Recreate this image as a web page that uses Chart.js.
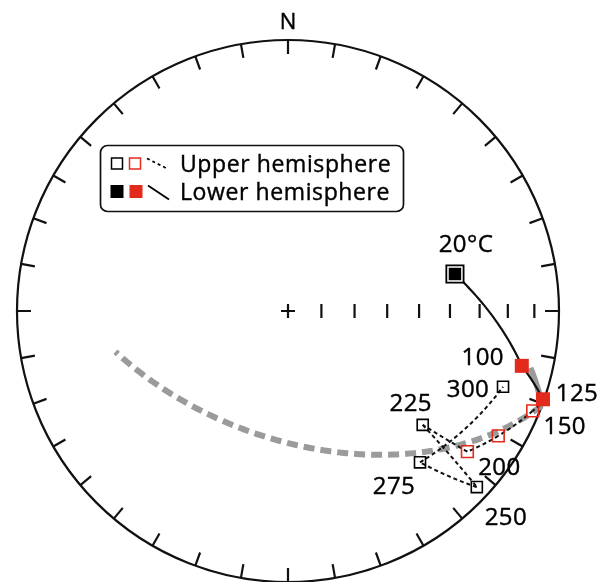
<!DOCTYPE html>
<html>
<head>
<meta charset="utf-8">
<script src="https://cdn.jsdelivr.net/npm/chart.js@4/dist/chart.umd.min.js"></script>
<style>
  html, body { margin: 0; padding: 0; background: #fff; overflow: hidden; }
  canvas { display: block; }
</style>
</head>
<body>
<canvas id="net" width="610" height="582"></canvas>
<script>
// Thermal demagnetisation steps (°C) and the remanence direction after each step
const steps = [20, 100, 125, 150, 175, 200, 225, 250, 275, 300];
const stepLabels = ['20°C', '100', '125', '150', '', '200', '225', '250', '275', '300'];
const declination = [77.5, 103.2, 109.1, 112.2, 120.7, 128.1, 130.2, 133.0, 138.9, 109.4];
const inclination = [37.0, 12.4, 0.5, -2.8, -10.7, -17.0, -35.2, -5.3, -26.8, -17.0];

// Remagnetisation great circle: its pole and the two ends of the drawn arc (dec, inc)
const circlePole = [200.4, 38.5];
const circleArcEnds = [[256.4, -34.6], [104.5, 10.0]];

// Net graticule: rim ticks every 10° of azimuth, plunge ticks along the E radius
const rimTickStep = 10;
const plungeTicks = [80, 70, 60, 50, 40, 30, 20, 10];

const legendItems = ['Upper hemisphere', 'Lower hemisphere'];

const RED = '#e32b1d';
const RAD = Math.PI / 180;

function toVec(dec, inc) {
  return [Math.cos(inc * RAD) * Math.cos(dec * RAD),
          Math.cos(inc * RAD) * Math.sin(dec * RAD),
          Math.sin(inc * RAD)];
}
function dot(a, b) { return a[0] * b[0] + a[1] * b[1] + a[2] * b[2]; }
function cross(a, b) {
  return [a[1] * b[2] - a[2] * b[1], a[2] * b[0] - a[0] * b[2], a[0] * b[1] - a[1] * b[0]];
}
function unit(v) { const n = Math.hypot(v[0], v[1], v[2]); return [v[0] / n, v[1] / n, v[2] / n]; }
function vecInc(v) { return Math.atan2(v[2], Math.hypot(v[0], v[1])) / RAD; }

// Equal-area (Schmidt) projection; upper-hemisphere directions use |inc|
function projectVec(v) {
  const inc = Math.abs(vecInc(v));
  const dec = Math.atan2(v[1], v[0]);
  const r = Math.SQRT2 * Math.sin((90 - inc) / 2 * RAD);
  return { x: r * Math.sin(dec), y: r * Math.cos(dec) };
}
function project(dec, inc) { return projectVec(toVec(dec, inc)); }

function slerp(a, b, t) {
  const om = Math.acos(Math.max(-1, Math.min(1, dot(a, b))));
  if (om < 1e-9) return a;
  const s = Math.sin(om), k1 = Math.sin((1 - t) * om) / s, k2 = Math.sin(t * om) / s;
  return [a[0] * k1 + b[0] * k2, a[1] * k1 + b[1] * k2, a[2] * k1 + b[2] * k2];
}

const points = steps.map((s, i) => ({ ...project(declination[i], inclination[i]), step: s, inc: inclination[i] }));
const isRed = s => s >= 100 && s <= 200;
const stepColour = s => isRed(s) ? RED : '#000';

// Text with a hairline outline so it sits as heavy as the linework
function heavyText(ctx, text, x, y) {
  ctx.fillText(text, x, y);
  ctx.strokeText(text, x, y);
}

// Draws a sampled path of vectors, dashed where it lies in the upper hemisphere
function drawRuns(ctx, toPx, vecs, solidStyle, dashStyle) {
  let run = [], upper = null;
  const flush = () => {
    if (run.length < 2) return;
    const st = upper ? dashStyle : solidStyle;
    ctx.save();
    ctx.strokeStyle = st.color; ctx.lineWidth = st.width; ctx.setLineDash(st.dash || []);
    ctx.lineCap = 'butt';
    ctx.beginPath();
    run.forEach((v, k) => { const [px, py] = toPx(projectVec(v)); k ? ctx.lineTo(px, py) : ctx.moveTo(px, py); });
    ctx.stroke();
    ctx.restore();
  };
  vecs.forEach(v => {
    const up = v[2] < 0;
    if (upper === null) upper = up;
    if (up !== upper) { run.push(v); flush(); run = [v]; upper = up; } else run.push(v);
  });
  flush();
}

const stereonet = {
  id: 'stereonet',
  beforeDatasetsDraw(chart) {
    const { ctx, scales: { x, y } } = chart;
    const toPx = p => [x.getPixelForValue(p.x), y.getPixelForValue(p.y)];
    const cx = x.getPixelForValue(0), cy = y.getPixelForValue(0);
    const R = x.getPixelForValue(1) - cx;
    ctx.save();
    ctx.strokeStyle = '#111';
    ctx.lineWidth = 2.2;
    ctx.beginPath();
    ctx.arc(cx, cy, R, 0, 2 * Math.PI);
    ctx.stroke();
    ctx.beginPath();
    for (let az = 0; az < 360; az += rimTickStep) {
      const s = Math.sin(az * RAD), c = Math.cos(az * RAD);
      ctx.moveTo(cx + s * R, cy - c * R);
      ctx.lineTo(cx + s * (R - 14), cy - c * (R - 14));
    }
    ctx.moveTo(cx - 7, cy); ctx.lineTo(cx + 7, cy);
    ctx.moveTo(cx, cy - 7); ctx.lineTo(cx, cy + 7);
    plungeTicks.forEach(p => {
      const [tx, ty] = toPx(project(90, p));
      ctx.moveTo(tx, ty - 7); ctx.lineTo(tx, ty + 7);
    });
    ctx.stroke();
    ctx.fillStyle = '#000';
    ctx.strokeStyle = '#000';
    ctx.lineWidth = 0.4;
    ctx.font = '22px "Open Sans"';
    ctx.textAlign = 'center';
    ctx.textBaseline = 'alphabetic';
    heavyText(ctx, 'N', cx, cy - R - 11);
    ctx.restore();

    // remagnetisation great circle
    const pv = toVec(circlePole[0], circlePole[1]);
    const u1 = unit([pv[1], -pv[0], 0]);
    const u2 = cross(pv, u1);
    const tOf = d => { const v = toVec(d[0], d[1]); return Math.atan2(dot(v, u2), dot(v, u1)); };
    const t0 = tOf(circleArcEnds[1]), t1 = tOf(circleArcEnds[0]);
    const arc = [];
    for (let k = 0; k <= 200; k++) {
      const t = t0 + (t1 - t0) * k / 200;
      arc.push([u1[0] * Math.cos(t) + u2[0] * Math.sin(t),
                u1[1] * Math.cos(t) + u2[1] * Math.sin(t),
                u1[2] * Math.cos(t) + u2[2] * Math.sin(t)]);
    }
    drawRuns(ctx, toPx, arc,
      { color: '#9b9b9b', width: 6 },
      { color: '#9b9b9b', width: 6, dash: [11, 6] });

    // demagnetisation path, step by step along great circles
    for (let i = 0; i < steps.length - 1; i++) {
      const a = toVec(declination[i], inclination[i]);
      const b = toVec(declination[i + 1], inclination[i + 1]);
      const seg = [];
      for (let k = 0; k <= 30; k++) seg.push(slerp(a, b, k / 30));
      const dashed = inclination[i] < 0 || inclination[i + 1] < 0;
      const st = dashed ? { color: '#111', width: 2, dash: [4, 3] } : { color: '#111', width: 2.2 };
      ctx.save();
      ctx.strokeStyle = st.color; ctx.lineWidth = st.width; ctx.setLineDash(st.dash || []);
      ctx.beginPath();
      seg.forEach((v, k) => { const [px, py] = toPx(projectVec(v)); k ? ctx.lineTo(px, py) : ctx.moveTo(px, py); });
      ctx.stroke();
      ctx.restore();
    }
  },
  afterDatasetsDraw(chart) {
    const { ctx, scales: { x, y } } = chart;
    const labelOffset = { 20: [11, -30], 100: [-39, -9], 125: [34, -7], 150: [32, 15], 200: [32, 15],
                          225: [-12, -22], 250: [29, 29], 275: [-26, 23], 300: [-35, 2] };
    ctx.save();
    ctx.fillStyle = '#000';
    ctx.strokeStyle = '#000';
    ctx.lineWidth = 0.4;
    ctx.font = '24px "Open Sans"';
    ctx.letterSpacing = '0.4px';
    ctx.textAlign = 'center';
    ctx.textBaseline = 'alphabetic';
    points.forEach((p, i) => {
      const text = stepLabels[i];
      if (!text) return;
      const off = labelOffset[p.step] || [0, 0];
      const px = x.getPixelForValue(p.x) + off[0];
      const py = y.getPixelForValue(p.y) + off[1];
      heavyText(ctx, text, px, py + 8.5);
    });
    ctx.restore();

    // legend
    ctx.save();
    ctx.strokeStyle = '#111';
    ctx.lineWidth = 1.7;
    ctx.beginPath();
    ctx.roundRect(100.5, 145.5, 303, 66, 7);
    ctx.fillStyle = '#fff';
    ctx.fill();
    ctx.stroke();
    const rows = [163.5, 191.5];
    // upper hemisphere swatches
    ctx.lineWidth = 1.5;
    ctx.strokeStyle = '#000';
    ctx.strokeRect(111.5, rows[0] - 5.5, 11, 11);
    ctx.strokeStyle = RED;
    ctx.strokeRect(129.5, rows[0] - 5.5, 11, 11);
    ctx.strokeStyle = '#000';
    ctx.lineWidth = 1.7;
    ctx.setLineDash([3, 3]);
    ctx.beginPath(); ctx.moveTo(147, rows[0] - 5); ctx.lineTo(167, rows[0] + 5); ctx.stroke();
    ctx.setLineDash([]);
    // lower hemisphere swatches
    ctx.fillStyle = '#000';
    ctx.fillRect(110.5, rows[1] - 6.5, 13, 13);
    ctx.fillStyle = RED;
    ctx.fillRect(129.5, rows[1] - 6.5, 13, 13);
    ctx.lineWidth = 1.9;
    ctx.beginPath(); ctx.moveTo(148, rows[1] - 6); ctx.lineTo(169, rows[1] + 8); ctx.stroke();
    ctx.fillStyle = '#000';
    ctx.lineWidth = 0.4;
    ctx.font = '23px "Open Sans"';
    ctx.letterSpacing = '0.6px';
    ctx.textAlign = 'left';
    ctx.textBaseline = 'alphabetic';
    legendItems.forEach((t, k) => heavyText(ctx, t, 180, rows[k] + 8));
    ctx.restore();
  }
};

const lower = points.filter(p => p.inc >= 0);
const upper = points.filter(p => p.inc < 0);
const first = points.filter(p => p.step === steps[0]);

new Chart(document.getElementById('net'), {
  type: 'scatter',
  data: {
    datasets: [
      {
        label: 'Lower hemisphere',
        data: lower,
        pointStyle: 'rect',
        pointRadius: ctx => ctx.raw && ctx.raw.step === steps[0] ? 8.8 : 9.9,
        pointBackgroundColor: ctx => stepColour(ctx.raw ? ctx.raw.step : 0),
        pointBorderWidth: 0,
        showLine: false
      },
      {
        label: 'First step',
        data: first,
        pointStyle: 'rect',
        pointRadius: 12.2,
        pointBackgroundColor: '#fff',
        pointBorderColor: '#000',
        pointBorderWidth: 1.8,
        showLine: false
      },
      {
        label: 'Upper hemisphere',
        data: upper,
        pointStyle: 'rect',
        pointRadius: ctx => ctx.raw && isRed(ctx.raw.step) ? 8.3 : 7.8,
        pointBackgroundColor: 'rgba(0,0,0,0)',
        pointBorderColor: ctx => stepColour(ctx.raw ? ctx.raw.step : 0),
        pointBorderWidth: 1.6,
        showLine: false
      }
    ]
  },
  options: {
    responsive: false,
    animation: false,
    events: [],
    devicePixelRatio: 1,
    layout: { autoPadding: false, padding: { left: 17, right: 51, top: 40, bottom: 0 } },
    scales: {
      x: { type: 'linear', min: -1, max: 1, display: false },
      y: { type: 'linear', min: -1, max: 1, display: false }
    },
    plugins: { legend: { display: false }, tooltip: { enabled: false } }
  },
  plugins: [stereonet]
});
</script>
</body>
</html>
